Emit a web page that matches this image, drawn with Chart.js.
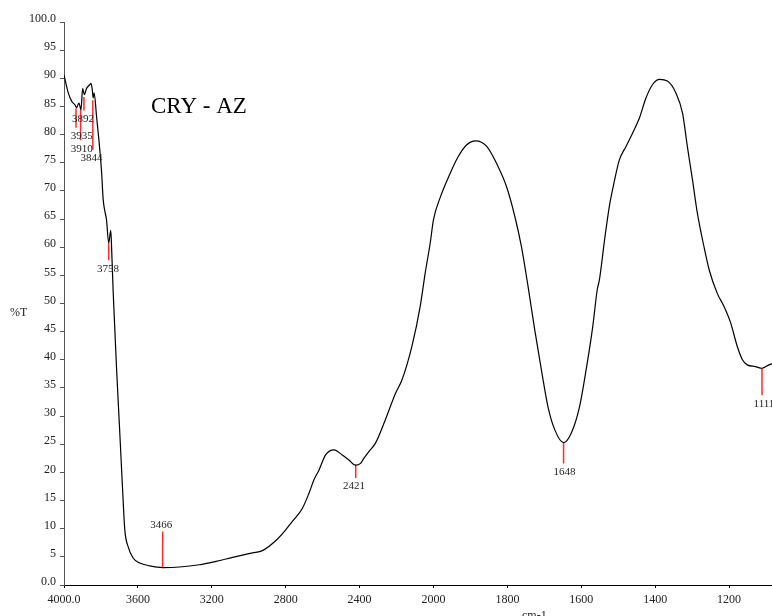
<!DOCTYPE html>
<html>
<head>
<meta charset="utf-8">
<title>CRY - AZ</title>
<style>
  html, body { margin: 0; padding: 0; background: #fff; overflow: hidden; width: 772px; height: 616px; }
  #wrap { position: relative; width: 820px; height: 616px; }
</style>
<script src="https://cdn.jsdelivr.net/npm/chart.js@4/dist/chart.umd.min.js"></script>
</head>
<body>
<div id="wrap"><canvas id="ir" width="820" height="616"></canvas></div>
<script>
// IR spectrum: wavenumber (cm-1) and transmittance (%T)
const wavenumbers = [
  4000, 3977, 3958, 3941, 3932, 3919, 3908, 3899, 3890, 3878, 3860, 3854, 3847, 3842, 3837,
  3824, 3797, 3788, 3779, 3770, 3758, 3747, 3743, 3734, 3716, 3698, 3680, 3671, 3653, 3626,
  3590, 3536, 3465, 3375, 3267, 3177, 3087, 2980, 2926, 2853, 2800, 2764, 2710, 2674, 2647,
  2620, 2584, 2539, 2494, 2458, 2422, 2395, 2377, 2350, 2314, 2260, 2206, 2171, 2117, 2072,
  2045, 2018, 2000, 1982, 1955, 1933, 1910, 1886, 1856, 1825, 1802, 1780, 1762, 1744, 1726,
  1708, 1690, 1672, 1648, 1627, 1605, 1587, 1569, 1557, 1551, 1537, 1524, 1510, 1497, 1479,
  1461, 1443, 1425, 1407, 1388, 1367, 1344, 1326, 1313, 1299, 1286, 1268, 1254, 1232, 1214,
  1196, 1178, 1164, 1151, 1129, 1111, 1092, 1080, 1070
];
const transmittance = [
  90.6, 87.4, 85.9, 85.3, 84.8, 85.6, 84.4, 88.2, 87.1, 88.2, 88.9, 89.1, 88.0, 86.5, 87.4,
  83.3, 73.6, 68.5, 66.4, 64.9, 60.7, 63.0, 60.5, 52.2, 38.8, 27.0, 15.1, 9.8, 6.8, 4.8,
  3.9, 3.4, 3.1, 3.2, 3.6, 4.2, 4.9, 5.7, 6.1, 7.9, 9.8, 11.3, 13.6, 16.3, 18.7,
  20.4, 23.1, 24.0, 23.1, 22.2, 21.3, 21.6, 22.5, 23.7, 25.2, 29.4, 34.0, 36.4, 42.4, 49.5,
  55.4, 60.7, 64.9, 68.8, 73.1, 76.1, 78.2, 78.9, 77.9, 74.3, 70.7, 65.5, 60.1, 53.0, 45.3,
  38.2, 31.6, 27.6, 25.3, 27.0, 31.6, 38.2, 45.9, 52.4, 54.2, 61.3, 67.3, 71.9, 75.5, 77.9,
  80.3, 82.9, 86.5, 88.9, 89.8, 89.5, 87.4, 83.8, 77.9, 71.9, 66.1, 60.1, 56.0, 51.8, 49.5,
  46.6, 42.4, 40.0, 39.1, 38.8, 38.5, 39.1, 39.4, 39.8
];

// Picked peaks: position, marker start (on the trace) and marker end (%T)
const peakPositions = [3935, 3910, 3892, 3844, 3758, 3466, 2421, 1648, 1111];
const peakFrom      = [84.7, 84.4, 86.7, 86.1, 60.7, 3.1, 21.3, 25.3, 38.5];
const peakTo        = [81.2, 79.0, 84.3, 77.3, 57.7, 9.5, 19.0, 21.6, 33.7];
const peakLabels    = ['3935', '3910', '3892', '3844', '3758', '3466', '2421', '1648', '1111'];

// Axis ticks (the x axis changes scale at 2000 cm-1)
const xTickWavenumbers = [4000, 3600, 3200, 2800, 2400, 2000, 1800, 1600, 1400, 1200, 1000];
const xTickLabels = ['4000.0', '3600', '3200', '2800', '2400', '2000', '1800', '1600', '1400', '1200', '1000'];
const yTickLabels = { 0: '0.0', 100: '100.0' };

// Piecewise axis position: 400 cm-1 per division above 2000, 200 cm-1 per division below
function toAxis(wn) {
  return wn >= 2000 ? (4000 - wn) / 400 : 5 + (2000 - wn) / 200;
}

const SERIF = '"Liberation Serif", "Times New Roman", serif';

const spectrum = {
  label: 'CRY - AZ',
  data: wavenumbers.map((wn, i) => ({ x: toAxis(wn), y: transmittance[i] })),
  borderColor: '#000',
  borderWidth: 1.2,
  pointRadius: 0,
  fill: false,
  cubicInterpolationMode: 'monotone',
  order: 1
};

const peakMarkers = peakPositions.map((wn, i) => ({
  label: peakLabels[i],
  data: [{ x: toAxis(wn), y: peakFrom[i] }, { x: toAxis(wn), y: peakTo[i] }],
  borderColor: '#ff2a2a',
  borderWidth: 1.5,
  pointRadius: 0,
  fill: false,
  order: 2
}));

// Text drawn over the plot: sample name, axis names and peak labels
const annotations = {
  id: 'annotations',
  afterDraw(chart, args, opts) {
    const { ctx, scales: { x, y } } = chart;
    ctx.save();
    ctx.fillStyle = '#000';
    ctx.font = '23px ' + SERIF;
    ctx.textAlign = 'left';
    ctx.textBaseline = 'alphabetic';
    ctx.fillText('CRY - AZ', 151, 113);

    ctx.fillStyle = '#222';
    ctx.font = '12px ' + SERIF;
    ctx.textBaseline = 'middle';
    ctx.fillText('%T', 10, 313);
    ctx.textBaseline = 'top';
    ctx.fillText('cm-1', 522, 610);

    ctx.font = '11px ' + SERIF;
    ctx.textAlign = 'center';
    peakPositions.forEach((wn, i) => {
      const px = x.getPixelForValue(toAxis(wn)) + (opts.shift[i] || 0);
      const end = y.getPixelForValue(peakTo[i]);
      if (peakTo[i] > peakFrom[i]) {
        ctx.textBaseline = 'bottom';
        ctx.fillText(peakLabels[i], px, end - 1);
      } else {
        ctx.textBaseline = 'top';
        ctx.fillText(peakLabels[i], px, end + 3);
      }
    });
    ctx.restore();
  }
};

new Chart(document.getElementById('ir'), {
  type: 'line',
  data: { datasets: [spectrum, ...peakMarkers] },
  options: {
    responsive: false,
    animation: false,
    events: [],
    layout: { padding: { top: 22, right: 14, left: 0, bottom: 0 } },
    plugins: {
      legend: { display: false },
      tooltip: { enabled: false },
      annotations: { shift: [5.7, 1, -1, -1.3, -0.7, -1.3, -1.7, 1, 2] }
    },
    scales: {
      x: {
        type: 'linear',
        min: 0,
        max: 10,
        afterFit(scale) { scale.height = 31; },
        afterBuildTicks(scale) { scale.ticks = xTickWavenumbers.map(wn => ({ value: toAxis(wn) })); },
        ticks: {
          autoSkip: false,
          maxRotation: 0,
          padding: 5,
          color: '#222',
          font: { family: SERIF, size: 12 },
          callback: (v, i) => xTickLabels[i]
        },
        grid: { drawOnChartArea: false, drawTicks: true, tickLength: 3, color: '#000' },
        border: { display: true, color: '#000', width: 1 }
      },
      y: {
        type: 'linear',
        min: 0,
        max: 100,
        afterFit(scale) { scale.width = 64; },
        ticks: {
          stepSize: 5,
          padding: 4,
          labelOffset: -3,
          color: '#222',
          font: { family: SERIF, size: 12 },
          callback: v => (yTickLabels[v] !== undefined ? yTickLabels[v] : String(v))
        },
        grid: { drawOnChartArea: false, drawTicks: true, tickLength: 4, color: '#555' },
        border: { display: true, color: '#555', width: 1 }
      }
    }
  },
  plugins: [annotations]
});
</script>
</body>
</html>
